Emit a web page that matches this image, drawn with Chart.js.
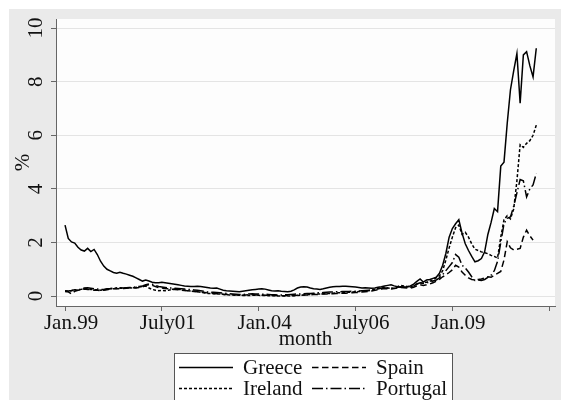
<!DOCTYPE html>
<html>
<head>
<meta charset="utf-8">
<script src="https://cdn.jsdelivr.net/npm/chart.js@4.4.0/dist/chart.umd.min.js"></script>
<style>
  html, body { margin: 0; padding: 0; background: #fff; }
  #wrap { width: 561px; height: 400px; position: relative; }
</style>
</head>
<body>
<div id="wrap"><canvas id="grafico"></canvas></div>
<script>
// monthly spreads, Jan.99 = month 0
const greece = [
  2.65, 2.15, 2.02, 1.98, 1.82, 1.72, 1.68, 1.78, 1.66, 1.74,
  1.55, 1.30, 1.12, 1.00, 0.94, 0.88, 0.85, 0.89, 0.85, 0.82,
  0.78, 0.74, 0.68, 0.62, 0.56, 0.60, 0.56, 0.52, 0.50, 0.50,
  0.52, 0.50, 0.48, 0.46, 0.44, 0.42, 0.40, 0.38, 0.37, 0.36,
  0.36, 0.37, 0.36, 0.34, 0.32, 0.30, 0.29, 0.30, 0.26, 0.22,
  0.20, 0.19, 0.18, 0.17, 0.16, 0.18, 0.20, 0.22, 0.24, 0.25,
  0.26, 0.27, 0.26, 0.23, 0.20, 0.19, 0.20, 0.18, 0.17, 0.16,
  0.18, 0.23, 0.30, 0.34, 0.35, 0.34, 0.30, 0.27, 0.26, 0.25,
  0.27, 0.30, 0.33, 0.35, 0.36, 0.36, 0.37, 0.37, 0.36, 0.35,
  0.34, 0.32, 0.30, 0.31, 0.30, 0.29, 0.30, 0.33, 0.35, 0.38,
  0.40, 0.42, 0.38, 0.35, 0.33, 0.33, 0.34, 0.38, 0.45, 0.55,
  0.64, 0.52, 0.60, 0.62, 0.66, 0.70, 0.85, 1.15, 1.60, 2.20,
  2.52, 2.70, 2.85, 2.35, 1.95, 1.70, 1.48, 1.28, 1.32, 1.40,
  1.65, 2.30, 2.75, 3.27, 3.15, 4.85, 5.00, 6.45, 7.70, 8.40,
  9.05, 7.20, 9.00, 9.12, 8.60, 8.18, 9.25
];
const ireland = [
  0.18, 0.17, 0.20, 0.24, 0.22, 0.25, 0.28, 0.27, 0.25, 0.24,
  0.24, 0.22, 0.23, 0.26, 0.27, 0.28, 0.28, 0.30, 0.29, 0.30,
  0.31, 0.30, 0.32, 0.34, 0.36, 0.38, 0.30, 0.25, 0.22, 0.20,
  0.21, 0.20, 0.22, 0.24, 0.26, 0.25, 0.24, 0.22, 0.20, 0.19,
  0.18, 0.16, 0.14, 0.12, 0.10, 0.10, 0.09, 0.08, 0.08, 0.06,
  0.05, 0.04, 0.04, 0.03, 0.03, 0.02, 0.02, 0.02, 0.03, 0.03,
  0.03, 0.02, 0.02, 0.01, 0.01, 0.01, 0.00, 0.00, 0.00, 0.00,
  0.00, 0.01, 0.02, 0.03, 0.04, 0.05, 0.06, 0.07, 0.08, 0.08,
  0.09, 0.10, 0.10, 0.11, 0.12, 0.12, 0.13, 0.14, 0.14, 0.15,
  0.16, 0.17, 0.18, 0.19, 0.20, 0.22, 0.25, 0.28, 0.30, 0.32,
  0.30, 0.28, 0.30, 0.35, 0.40, 0.38, 0.36, 0.35, 0.38, 0.45,
  0.50, 0.48, 0.52, 0.55, 0.62, 0.68, 0.75, 0.95, 1.35, 1.80,
  2.20, 2.55, 2.65, 2.30, 2.38, 2.20, 1.95, 1.75, 1.70, 1.65,
  1.62, 1.58, 1.52, 1.48, 1.42, 2.20, 2.85, 3.00, 2.88, 3.25,
  4.30, 5.65, 5.55, 5.70, 5.80, 6.00, 6.38
];
const spain = [
  0.17, 0.16, 0.08, 0.18, 0.22, 0.24, 0.26, 0.25, 0.24, 0.22,
  0.22, 0.20, 0.22, 0.24, 0.26, 0.27, 0.28, 0.27, 0.28, 0.29,
  0.30, 0.31, 0.30, 0.32, 0.34, 0.40, 0.42, 0.40, 0.36, 0.32,
  0.30, 0.28, 0.27, 0.26, 0.25, 0.24, 0.22, 0.21, 0.20, 0.18,
  0.17, 0.16, 0.15, 0.14, 0.12, 0.11, 0.10, 0.09, 0.08, 0.07,
  0.06, 0.06, 0.05, 0.04, 0.04, 0.03, 0.04, 0.05, 0.05, 0.04,
  0.04, 0.03, 0.03, 0.03, 0.02, 0.02, 0.01, 0.01, 0.01, 0.02,
  0.02, 0.02, 0.03, 0.03, 0.04, 0.04, 0.05, 0.06, 0.06, 0.07,
  0.08, 0.08, 0.09, 0.09, 0.10, 0.10, 0.11, 0.11, 0.12, 0.12,
  0.13, 0.14, 0.15, 0.16, 0.17, 0.19, 0.22, 0.24, 0.26, 0.28,
  0.27, 0.26, 0.28, 0.30, 0.32, 0.31, 0.30, 0.30, 0.33, 0.38,
  0.42, 0.40, 0.42, 0.45, 0.50, 0.55, 0.62, 0.72, 0.80, 0.88,
  0.98, 1.15, 1.08, 0.90, 0.78, 0.68, 0.62, 0.60, 0.62, 0.64,
  0.68, 0.72, 0.70, 0.78, 0.85, 0.92, 1.35, 2.03, 1.80, 1.72,
  1.75, 1.78, 2.20, 2.46, 2.25, 2.09, null
];
const portugal = [
  0.20, 0.19, 0.21, 0.24, 0.23, 0.26, 0.30, 0.31, 0.29, 0.27,
  0.26, 0.25, 0.25, 0.27, 0.28, 0.30, 0.31, 0.31, 0.30, 0.31,
  0.32, 0.33, 0.34, 0.36, 0.38, 0.42, 0.45, 0.44, 0.40, 0.36,
  0.34, 0.32, 0.30, 0.30, 0.29, 0.28, 0.27, 0.26, 0.25, 0.24,
  0.23, 0.22, 0.20, 0.18, 0.16, 0.15, 0.14, 0.13, 0.12, 0.11,
  0.10, 0.09, 0.08, 0.07, 0.06, 0.06, 0.07, 0.08, 0.09, 0.08,
  0.08, 0.07, 0.07, 0.06, 0.05, 0.05, 0.04, 0.04, 0.05, 0.05,
  0.06, 0.07, 0.08, 0.08, 0.09, 0.10, 0.10, 0.11, 0.12, 0.12,
  0.13, 0.14, 0.15, 0.15, 0.16, 0.16, 0.17, 0.17, 0.17, 0.18,
  0.18, 0.19, 0.20, 0.21, 0.22, 0.23, 0.25, 0.27, 0.29, 0.30,
  0.30, 0.29, 0.31, 0.33, 0.35, 0.34, 0.33, 0.34, 0.38, 0.45,
  0.50, 0.47, 0.50, 0.52, 0.56, 0.60, 0.68, 0.80, 0.95, 1.10,
  1.25, 1.55, 1.45, 1.15, 1.05, 0.90, 0.72, 0.58, 0.60, 0.58,
  0.62, 0.70, 0.78, 0.95, 1.30, 2.00, 2.70, 2.90, 2.95, 3.35,
  3.85, 4.35, 4.30, 3.70, 4.00, 4.15, 4.58
];
const months = greece.map((v, i) => i);

const yTicks = [0, 2, 4, 6, 8, 10];
const xTickPos = [0, 30, 60, 90, 120, 150];
const xTickLabels = ['Jan.99', 'July01', 'Jan.04', 'July06', 'Jan.09', ''];

const fuente = { family: "'Liberation Serif', 'Times New Roman', serif", size: 21, lineHeight: 1 };
const gris = '#666';

const pares = serie => serie.map((v, i) => ({ x: months[i], y: v }));

const fondo = {
  id: 'fondo',
  beforeDraw(chart) {
    const { ctx, chartArea: a, width, height } = chart;
    ctx.save();
    ctx.fillStyle = '#ffffff';
    ctx.fillRect(0, 0, width, height);
    ctx.fillStyle = '#eaeaea';
    ctx.fillRect(9, 9, width - 9, height - 9);
    ctx.fillStyle = '#fdfdfd';
    ctx.fillRect(a.left, a.top, a.right - a.left, a.bottom - a.top);
    ctx.restore();
  }
};

// legend in two columns, like the Stata one
const leyenda = {
  id: 'leyenda',
  afterDraw(chart) {
    const ctx = chart.ctx;
    const ds = chart.data.datasets;
    const celdas = [
      { i: 0, x: 179, y: 367 }, { i: 2, x: 312, y: 367 },
      { i: 1, x: 179, y: 388 }, { i: 3, x: 312, y: 388 }
    ];
    ctx.save();
    ctx.fillStyle = '#ffffff';
    ctx.fillRect(174.5, 353.5, 278, 60);
    ctx.strokeStyle = '#555';
    ctx.lineWidth = 1;
    ctx.strokeRect(174.5, 353.5, 278, 60);
    ctx.font = '21px ' + fuente.family;
    ctx.textBaseline = 'alphabetic';
    ctx.fillStyle = '#111';
    celdas.forEach(c => {
      const d = ds[c.i];
      ctx.beginPath();
      ctx.setLineDash(d.borderDash || []);
      ctx.lineWidth = d.borderWidth;
      ctx.strokeStyle = d.borderColor;
      ctx.moveTo(c.x, c.y + 0.5);
      ctx.lineTo(c.x + 54, c.y + 0.5);
      ctx.stroke();
      ctx.setLineDash([]);
      ctx.fillText(d.label, c.x + 64, c.y + 7);
    });
    ctx.restore();
  }
};

const ctx = document.getElementById('grafico').getContext('2d');
new Chart(ctx, {
  type: 'line',
  data: {
    datasets: [
      { label: 'Greece', data: pares(greece), borderDash: [] },
      { label: 'Ireland', data: pares(ireland), borderDash: [3, 2] },
      { label: 'Spain', data: pares(spain), borderDash: [6.5, 3.5] },
      { label: 'Portugal', data: pares(portugal), borderDash: [11, 3, 1.5, 3] }
    ].map(d => Object.assign(d, {
      borderColor: '#000',
      borderWidth: 1.5,
      pointRadius: 0,
      tension: 0,
      fill: false
    }))
  },
  options: {
    responsive: true,
    maintainAspectRatio: false,
    animation: false,
    layout: { padding: { left: 9, top: 19, right: 6, bottom: 50 } },
    plugins: {
      legend: { display: false },
      tooltip: { enabled: false }
    },
    scales: {
      x: {
        type: 'linear',
        min: -2.8,
        max: 151.8,
        afterBuildTicks: s => { s.ticks = xTickPos.map(v => ({ value: v })); },
        afterFit: s => { s.height = 44; },
        ticks: {
          autoSkip: false,
          minRotation: 0,
          maxRotation: 0,
          padding: 2,
          labelOffset: 6,
          color: '#111',
          font: fuente,
          callback: v => xTickLabels[xTickPos.indexOf(v)]
        },
        grid: { drawOnChartArea: false, tickColor: gris, tickLength: 5 },
        border: { color: gris, width: 1 },
        title: { display: true, text: 'month', color: '#111', font: fuente, padding: { top: 0, bottom: 0 } }
      },
      y: {
        min: -0.37,
        max: 10.34,
        afterBuildTicks: s => { s.ticks = yTicks.map(v => ({ value: v })); },
        afterFit: s => { s.width = 47; },
        ticks: {
          minRotation: 90,
          maxRotation: 90,
          crossAlign: 'center',
          padding: 4,
          color: '#111',
          font: fuente,
          callback: v => String(v)
        },
        grid: { color: '#e4e4e4', tickColor: gris, tickLength: 5 },
        border: { color: gris, width: 1 },
        title: { display: true, text: '%', color: '#111', font: fuente, padding: { top: 4, bottom: 0 } }
      }
    }
  },
  plugins: [fondo, leyenda]
});
</script>
</body>
</html>
